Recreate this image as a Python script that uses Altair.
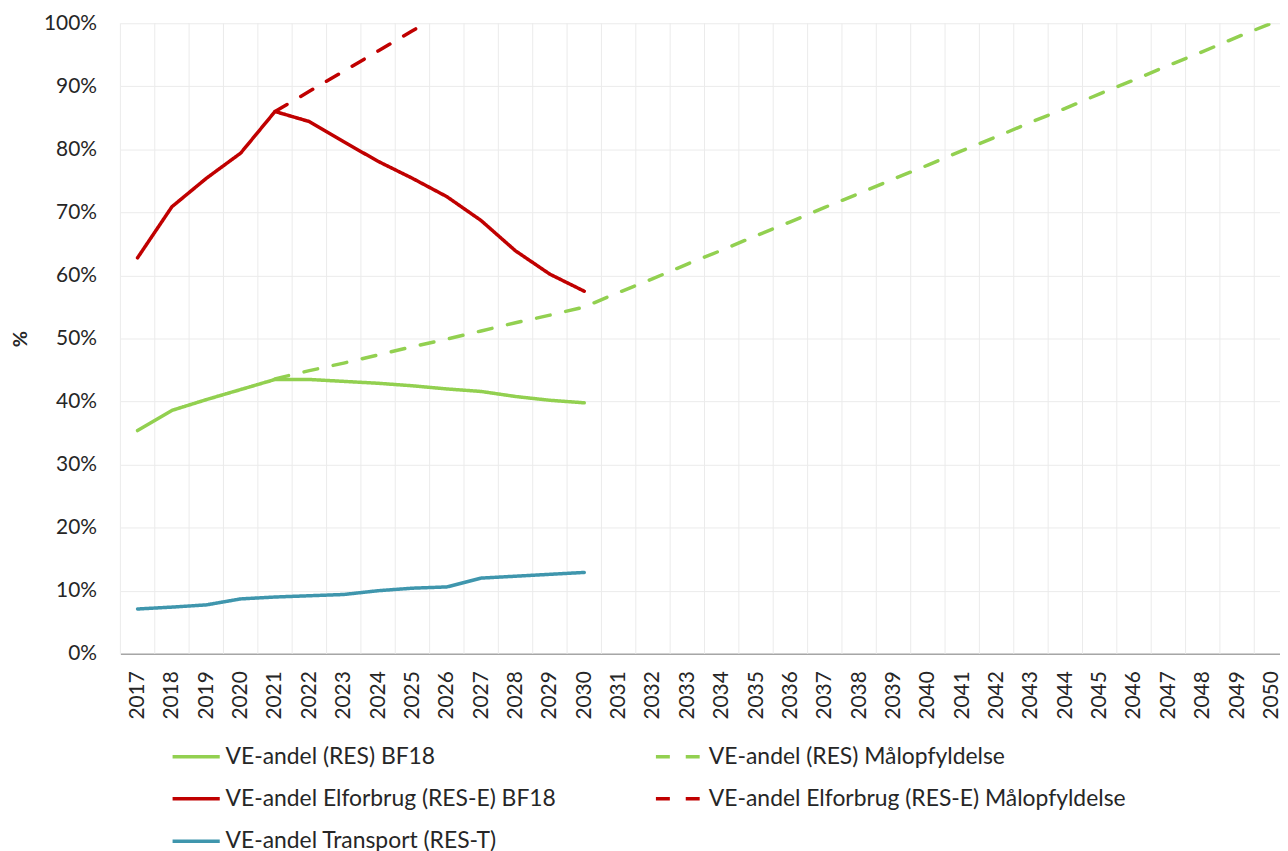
import altair as alt
import pandas as pd

# ---- data ----
years_all = [2017, 2018, 2019, 2020, 2021, 2022, 2023, 2024, 2025, 2026, 2027,
             2028, 2029, 2030, 2031, 2032, 2033, 2034, 2035, 2036, 2037, 2038,
             2039, 2040, 2041, 2042, 2043, 2044, 2045, 2046, 2047, 2048, 2049, 2050]
years_bf18 = [2017, 2018, 2019, 2020, 2021, 2022, 2023, 2024, 2025, 2026, 2027,
              2028, 2029, 2030]
years_res_maal = [2021, 2022, 2023, 2024, 2025, 2026, 2027, 2028, 2029, 2030,
                  2031, 2032, 2033, 2034, 2035, 2036, 2037, 2038, 2039, 2040,
                  2041, 2042, 2043, 2044, 2045, 2046, 2047, 2048, 2049, 2050]
years_rese_maal = [2021, 2022, 2023, 2024, 2025, 2026, 2027, 2028, 2029, 2030]

res_bf18 = [35.4, 38.6, 40.3, 41.9, 43.5, 43.5, 43.2, 42.9, 42.5, 42.0, 41.6,
            40.8, 40.2, 39.8]
rese_bf18 = [62.8, 70.9, 75.4, 79.4, 86.0, 84.4, 81.2, 78.1, 75.4, 72.5, 68.7,
             63.9, 60.2, 57.5]
rest_bf18 = [7.1, 7.4, 7.75, 8.7, 9.0, 9.2, 9.4, 10.0, 10.4, 10.6, 12.0,
             12.3, 12.6, 12.9]
res_maal = [43.6, 44.9, 46.1, 47.4, 48.7, 49.9, 51.2, 52.5, 53.7, 55.0,
            57.3, 59.5, 61.8, 64.0, 66.3, 68.5, 70.8, 73.0, 75.3, 77.5,
            79.8, 82.0, 84.3, 86.5, 88.8, 91.0, 93.3, 95.5, 97.8, 100.0]
rese_maal = [86.0, 89.2, 92.4, 95.6, 98.8, 102.0, 105.2, 108.4, 111.6, 114.8]

y_ticks = [0, 10, 20, 30, 40, 50, 60, 70, 80, 90, 100]

S1 = "VE-andel (RES) BF18"
S2 = "VE-andel (RES) Målopfyldelse"
S3 = "VE-andel Elforbrug (RES-E) BF18"
S4 = "VE-andel Elforbrug (RES-E) Målopfyldelse"
S5 = "VE-andel Transport (RES-T)"
# legend fills column by column: first column S1, S3, S5; second S2, S4
series_order = [S1, S3, S5, S2, S4]
series_colors = ["#92D050", "#C00000", "#3F96AD", "#92D050", "#C00000"]
series_dash = [[1, 0], [1, 0], [1, 0], [14, 16], [14, 16]]

rows = []
for name, ys, vs in [(S1, years_bf18, res_bf18), (S3, years_bf18, rese_bf18),
                     (S5, years_bf18, rest_bf18), (S2, years_res_maal, res_maal),
                     (S4, years_rese_maal, rese_maal)]:
    for y, v in zip(ys, vs):
        rows.append({"series": name, "year": y, "value": v})
df = pd.DataFrame(rows)
grid_df = pd.DataFrame({"year": years_all})

FONT = "Lato"
TXT = "#262626"
W, H = 1166, 634

xscale = alt.Scale(domain=[2016.5, 2016.5 + W / 34.55], nice=False, zero=False)
xaxis = alt.Axis(values=years_all, format="d", labelAngle=-90, grid=False,
                 ticks=False, tickSize=0, labelPadding=17, labelFont=FONT,
                 labelFontSize=21, labelColor=TXT, labelFlush=False,
                 labelOverlap=False, domainColor="#A6A6A6", domainWidth=1.5,
                 title=None)
yscale = alt.Scale(domain=[0, 100], nice=False, zero=True)


def make_legend():
    return alt.Legend(orient="none", legendX=50.7, legendY=711.7, columns=2,
                      columnPadding=92, rowPadding=4.6, symbolType="stroke",
                      symbolSize=2250, symbolStrokeWidth=3.5, labelFont=FONT,
                      labelFontSize=23, labelColor=TXT, labelOffset=4,
                      labelLimit=0, padding=0, title=None)


vgrid = alt.Chart(grid_df).transform_calculate(
    edge="datum.year - 0.5"
).mark_rule(color="#EBEBEB", strokeWidth=1).encode(
    x=alt.X("edge:Q", scale=xscale, axis=xaxis)
)

lines = alt.Chart(df).mark_line(
    strokeWidth=3.5, strokeCap="round", strokeJoin="round", clip=True
).encode(
    x=alt.X("year:Q", scale=xscale, axis=xaxis),
    y=alt.Y("value:Q", scale=yscale,
            axis=alt.Axis(values=y_ticks, labelExpr="datum.value + '%'",
                          grid=True, gridColor="#EBEBEB", gridWidth=1,
                          domain=False, ticks=False, tickSize=0,
                          labelPadding=24, labelFont=FONT, labelFontSize=21,
                          labelColor=TXT, title="%", titleFont=FONT,
                          titleFontSize=20, titleFontWeight="bold",
                          titleColor=TXT, titleX=-100, titleY=H / 2,
                          titleAlign="center", titleBaseline="middle")),
    color=alt.Color("series:N",
                    scale=alt.Scale(domain=series_order, range=series_colors),
                    legend=make_legend()),
    strokeDash=alt.StrokeDash("series:N",
                              scale=alt.Scale(domain=series_order,
                                              range=series_dash),
                              legend=make_legend()),
    detail="series:N",
)

chart = alt.layer(vgrid, lines).properties(
    width=W, height=H,
    padding={"left": 113, "top": 13, "right": 0, "bottom": 196},
    autosize=alt.AutoSizeParams(type="none"),
    background="white",
).configure_view(stroke=None)

chart.save("out.html", embed_options={"renderer": "svg", "actions": False})
